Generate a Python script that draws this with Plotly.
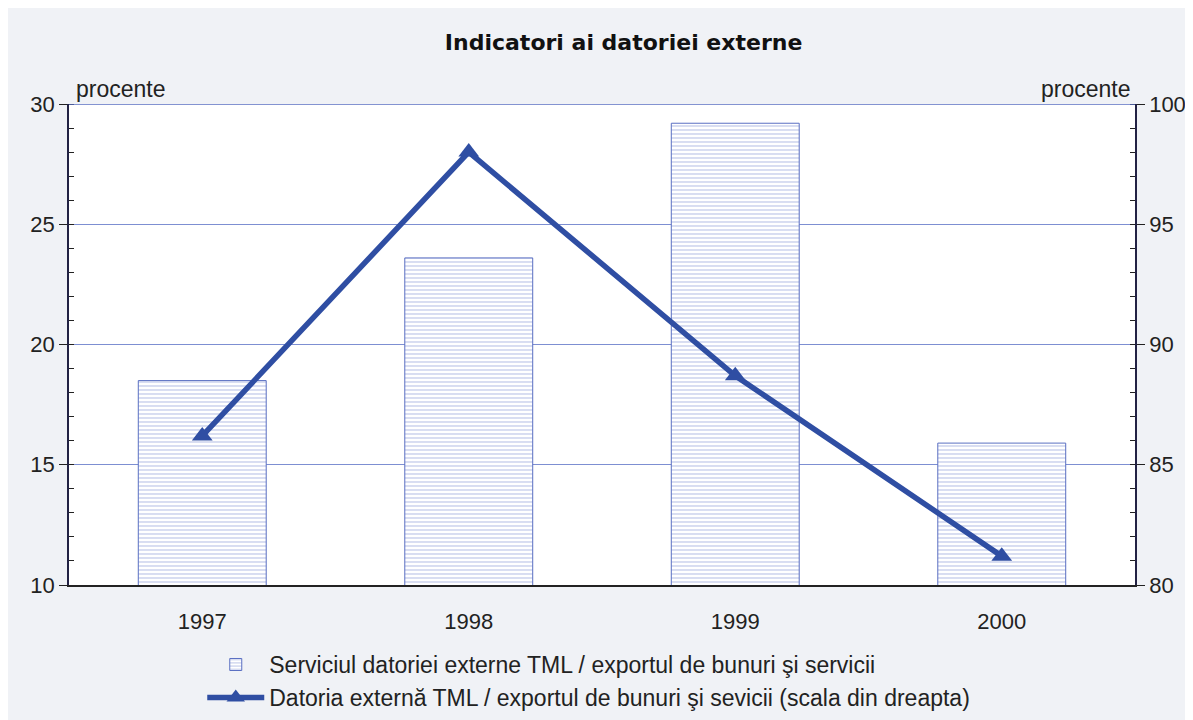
import plotly.graph_objects as go

years = ["1997", "1998", "1999", "2000"]
serviciu = [18.5, 23.6, 29.2, 15.9]
datoria = [86.2, 98.0, 88.7, 81.2]

left_ticks = [10, 15, 20, 25, 30]
right_ticks = [80, 85, 90, 95, 100]

fnt = "Liberation Sans, Arial, sans-serif"
blue = "#2f4ea3"

fig = go.Figure()

fig.add_trace(go.Bar(
    x=years, y=serviciu,
    name="Serviciul datoriei externe TML / exportul de bunuri şi servicii",
    marker=dict(
        color="white",
        line=dict(color="#5a6fc2", width=1),
        pattern=dict(shape="-", fgcolor="#7d8fd2", bgcolor="white", size=4, solidity=0.3),
    ),
    yaxis="y",
))

fig.add_trace(go.Scatter(
    x=years, y=datoria,
    name="Datoria externă TML / exportul de bunuri şi sevicii (scala din dreapta)",
    mode="lines+markers",
    line=dict(color=blue, width=5.5),
    marker=dict(symbol="triangle-up", size=18, color=blue),
    yaxis="y2",
))

fig.update_layout(
    width=1193, height=720,
    margin=dict(l=61, r=66, t=96, b=143),
    paper_bgcolor="#f0f2f6",
    plot_bgcolor="white",
    font=dict(family=fnt, size=22, color="#222222"),
    bargap=0.52,
    showlegend=True,
    title=dict(text="<b>Indicatori ai datoriei externe</b>", x=0.516, xanchor="center",
               y=0.953, yanchor="middle",
               font=dict(family="DejaVu Sans, sans-serif", size=22, color="#111111")),
    xaxis=dict(
        showgrid=False, showline=True, linecolor="#222222", linewidth=1.5,
        ticks="", tickfont=dict(size=22), mirror=False, ticklabelstandoff=16,
        automargin=False,
    ),
    yaxis=dict(
        range=[10, 30], tickvals=left_ticks, showgrid=True, gridcolor="#7d8fd2",
        gridwidth=1, zeroline=False, showline=True, linecolor="#222244", linewidth=1.5,
        ticks="outside", ticklen=8, tickcolor="#222222", automargin=False,
        minor=dict(dtick=1, ticks="inside", ticklen=5, tickcolor="#222222", showgrid=False),
    ),
    yaxis2=dict(
        range=[80, 100], tickvals=right_ticks, overlaying="y", side="right",
        showgrid=False, zeroline=False, showline=True, linecolor="#222244", linewidth=1.5,
        ticks="outside", ticklen=8, tickcolor="#222222", automargin=False,
        minor=dict(dtick=1, ticks="inside", ticklen=5, tickcolor="#222222", showgrid=False),
    ),
    legend=dict(
        orientation="v", x=0.125, xanchor="left", y=0.118, yanchor="top",
        yref="container",
        bgcolor="rgba(0,0,0,0)", font=dict(size=23), tracegroupgap=0,
        traceorder="normal", itemwidth=57,
    ),
)

fig.add_shape(type="line", xref="paper", yref="y", x0=0, x1=1, y0=30, y1=30,
              line=dict(color="#5a6fc2", width=1.5))

fig.add_annotation(text="procente", xref="paper", yref="paper", x=0.005, y=1.0,
                   xanchor="left", yanchor="bottom", showarrow=False, font=dict(size=23))
fig.add_annotation(text="procente", xref="paper", yref="paper", x=0.998, y=1.0,
                   xanchor="right", yanchor="bottom", showarrow=False, font=dict(size=23))

fig.write_html("out.html")
